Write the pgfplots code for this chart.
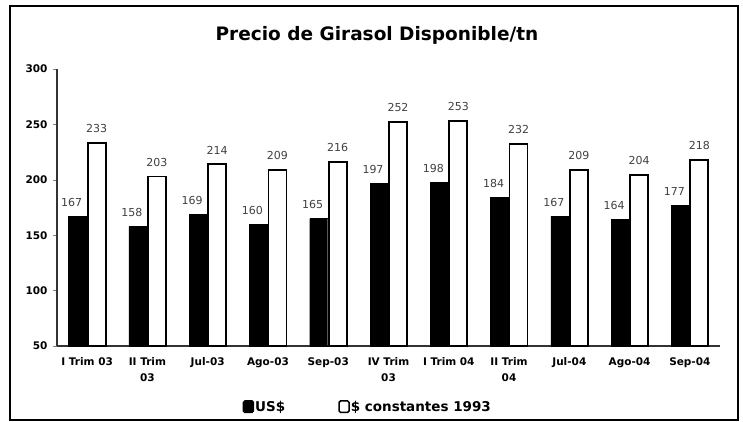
\documentclass[border=0pt]{standalone}
\usepackage{fontspec}
\setmainfont{DejaVu Sans}
\usepackage{pgfplots}
\pgfplotsset{compat=1.18}

\begin{document}
\begin{tikzpicture}
  \useasboundingbox (0,0) rectangle (743pt,422pt);
  % outer frame
  \draw[line width=2.2pt] (10pt,2pt) rectangle (738pt,416pt);
  \node[font=\bfseries\fontsize{18.5}{22}\selectfont] at (377pt,387pt) {Precio de Girasol Disponible/tn};
  \begin{axis}[
      at={(57pt,76pt)}, anchor=south west,
      scale only axis,
      width=663pt, height=277pt,
      ybar, bar width=18pt,
      xmin=-0.5, xmax=10.5,
      ymin=50, ymax=300,
      ytick={50,100,...,300},
      xtick=data,
      xticklabels={I Trim 03, II Trim\\[4pt]03, Jul-03, Ago-03, Sep-03, IV Trim\\[4pt]03,
        I Trim 04, II Trim\\[4pt]04, Jul-04, Ago-04, Sep-04},
      x tick label style={font=\bfseries\fontsize{10.5}{12}\selectfont, align=center, yshift=-4pt},
      y tick label style={font=\bfseries\fontsize{10.5}{12}\selectfont, xshift=-2pt},
      /pgf/number format/assume math mode=true,
      axis x line*=bottom, axis y line*=left,
      axis line style={line width=1.2pt, black!80},
      x axis line style={-}, y axis line style={-},
      major x tick style={draw=none},
      tick align=outside,
      major tick length=4pt,
      extra x ticks={-0.5,0.5,...,10.5},
      extra x tick labels={},
      extra x tick style={major tick length=4pt, tick style={draw=black!60, line width=0.8pt}},
      nodes near coords,
      every node near coord/.append style={font=\fontsize{11}{13}\selectfont, text=black!75, yshift=6pt},
      legend style={at={(0.468,-0.22)}, anchor=center, draw=none, fill=none,
        legend columns=2, font=\bfseries\fontsize{13.5}{15}\selectfont,
        nodes={inner xsep=1pt},
        /tikz/every even column/.append style={column sep=52pt}},
      legend image code/.code={\draw[#1, line width=1.5pt, rounded corners=1.5pt] (0pt,-5.5pt) rectangle (10pt,6pt);},
      clip=false,
    ]
    \addplot[fill=black, draw=black, bar shift=-9.5pt,
      every node near coord/.append style={xshift=-6pt}] coordinates {
      (0,167) (1,158) (2,169) (3,160) (4,165) (5,197)
      (6,198) (7,184) (8,167) (9,164) (10,177)
    };
    \addlegendentry{US\$}
    \addplot[fill=white, draw=black, line width=1.8pt, bar shift=9.5pt] coordinates {
      (0,233) (1,203) (2,214) (3,209) (4,216) (5,252)
      (6,253) (7,232) (8,209) (9,204) (10,218)
    };
    \addlegendentry{\$ constantes 1993}
  \end{axis}
\end{tikzpicture}
\end{document}
